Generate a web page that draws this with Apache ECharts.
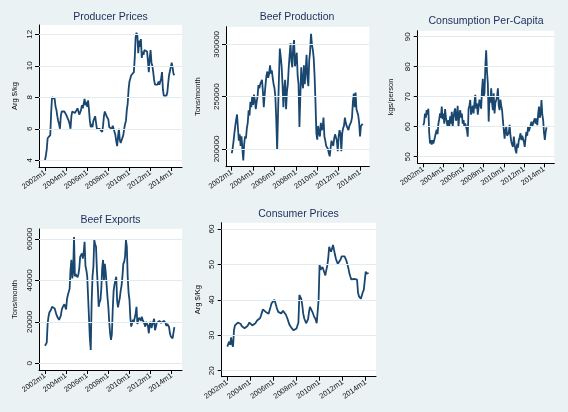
<!DOCTYPE html>
<html><head><meta charset="utf-8">
<script src="https://cdn.jsdelivr.net/npm/echarts@6/dist/echarts.min.js"></script>
<style>html,body{margin:0;padding:0;background:#EAF2F3}#c{width:568px;height:412px}</style>
</head><body><div id="c"></div>
<script>
// x axis: months since 2002m1
const xTickMonths = [0, 24, 48, 72, 96, 120, 144];
const xTickLabels = ['2002m1', '2004m1', '2006m1', '2008m1', '2010m1', '2012m1', '2014m1'];

const titles = ['Producer Prices', 'Beef Production', 'Consumption Per-Capita', 'Beef Exports', 'Consumer Prices'];
const yNames = ['Arg $/kg', 'Tons/month', 'kgs/person', 'Tons/month', 'Arg $/Kg'];

const yTicksProducer = [4, 6, 8, 10, 12];
const yTicksProduction = [200000, 250000, 300000];
const yTicksConsumption = [50, 60, 70, 80, 90];
const yTicksExports = [0, 20000, 40000, 60000];
const yTicksConsumer = [20, 30, 40, 50, 60];

const producerPrices = [4.0,4.3,4.7,5.4,5.4,5.3,5.6,7.0,8.0,8.0,
8.0,7.9,7.4,7.2,6.8,6.5,6.3,6.0,6.8,7.1,
7.1,7.0,7.1,7.0,6.9,7.0,6.8,6.5,6.3,6.0,
6.8,7.1,7.0,7.2,7.0,7.1,6.9,7.3,7.4,6.9,
7.0,7.2,7.5,7.3,7.6,7.9,7.5,7.7,7.4,7.8,
7.2,6.5,6.1,6.3,6.1,6.5,6.5,6.8,6.4,6.0,
6.1,6.0,6.0,5.9,5.9,5.8,6.2,6.8,7.1,7.0,
6.8,6.9,6.6,6.1,6.0,6.1,6.0,6.2,6.3,6.2,
5.6,5.2,4.9,5.5,6.0,5.3,5.1,5.0,5.1,5.6,
6.0,6.3,6.5,7.2,7.6,8.5,9.0,9.2,9.4,9.4,
9.5,9.6,10.5,11.8,12.1,11.9,10.8,11.6,11.2,11.7,
10.5,10.9,10.7,11.0,11.0,11.0,10.9,10.3,9.6,10.5,
11.0,10.2,10.0,9.6,9.1,8.8,8.8,8.9,8.8,9.0,
8.8,8.7,9.2,9.6,8.5,8.1,8.0,8.0,8.1,8.3,
8.9,9.4,9.3,9.5,10.2,9.9,9.5,9.4];

const beefProduction = [196000,200000,207000,215000,222000,228000,233000,220000,208000,214000,
203000,212000,200000,189000,205000,212000,210000,220000,225000,237000,
232000,245000,240000,250000,242000,252000,247000,238000,245000,250000,
261000,258000,262000,262000,266000,255000,240000,252000,262000,270000,
274000,268000,272000,280000,272000,275000,268000,262000,258000,250000,
228000,199000,235000,268000,296000,288000,279000,262000,240000,258000,
266000,238000,255000,262000,278000,290000,301000,284000,278000,298000,
304000,279000,285000,292000,270000,262000,221000,250000,278000,265000,
258000,280000,262000,275000,290000,268000,260000,285000,293000,310000,
300000,295000,287000,270000,245000,215000,209000,222000,215000,212000,
225000,218000,220000,230000,212000,208000,203000,204000,200000,196000,
193000,201000,208000,205000,203000,210000,214000,215000,208000,198000,
212000,218000,215000,198000,215000,220000,222000,230000,225000,222000,
220000,218000,222000,224000,226000,230000,245000,253000,240000,254000,
238000,235000,232000,225000,212000,222000,222000,224000];

const consumption = [60.5,61.5,64.4,63,65.5,64,66,58,54.4,55.5,
54,55.5,54.4,55.5,56.7,58,59,57.5,61,62.5,
64.4,63,66.7,62.5,64.4,61,65.9,63,63.3,60,
62.2,60,63.5,61,65,60,62.8,65,66.1,62,
63,67,60,64,65.5,63,64.4,61,62.2,60,
61.1,60,58.9,56.7,66,67,68.9,64,65.5,67,
64.4,68,70.6,66,67.8,64,64.4,69,68.9,66,
72.2,76,70,71.1,80,85.5,78.3,74.4,61.7,70,
68,72.8,68,65.5,71.1,64.4,68,68.9,70,72.8,
67,65.5,69,67,65.5,62,58.9,56,59,60,
57,56.7,58,60.6,57,55,54,53.3,56.7,54,
52.2,51.1,54.4,53,55.5,56.5,57.8,55.5,57,57.2,
55,53.3,56,58.3,57,60,58.5,58.9,60.5,61.7,
60,61.1,62,62.8,61,62.8,60.5,64,66.7,63,
64.4,68.9,64,62.2,58,55.6,58.3,59.8];

const beefExports = [8500,9000,10000,19000,22500,24500,24000,26000,27300,28000,
27500,26500,25700,23500,22500,21700,21000,20500,23000,25700,
27000,27500,28500,29000,26000,31000,33000,32500,36000,45000,
50000,41000,44000,61000,42000,43000,42500,41500,43000,46000,
51500,52000,53000,50500,53500,58700,47000,45000,42000,32000,
22000,12000,6400,29000,42000,46500,59500,57500,56300,45000,
37000,27300,29500,30500,36000,46000,49900,40000,48000,44000,
38000,32000,27300,20000,14500,11300,14000,26000,35000,38000,
40000,41800,30000,27000,29500,31500,35000,37500,41800,48000,
49000,51500,59500,56300,41800,34000,30600,22000,17700,18500,
21000,20000,19500,24000,27300,19000,21000,22000,21700,20500,
22500,21000,20000,19000,17700,20000,20500,18000,14500,19000,
20000,17000,16500,20000,21500,16000,17500,19500,20000,19000,
20500,20000,19500,20000,19500,20500,20000,19500,18000,19000,
18500,17500,14500,13000,12800,12000,12000,17500];

const consumerPrices = [26.8,26.8,28.2,27.3,29.4,27.5,26.8,31.5,32.8,33.0,
33.1,33.6,33.5,33.4,33.2,32.6,32.3,32.1,32.0,32.1,
32.3,32.6,32.8,33.6,34.0,33.3,32.8,33.2,33.2,33.3,
33.8,34.2,34.3,34.5,34.8,35.5,36.4,37.3,37.4,37.1,
36.6,36.3,36.2,36.1,36.4,38.0,39.0,39.5,39.3,40.0,
39.2,38.2,37.3,36.6,36.1,36.1,36.2,36.4,36.9,36.8,
36.6,35.8,35.1,34.4,33.5,32.8,32.3,32.0,31.6,31.4,
31.4,31.6,31.9,32.4,33.6,41.4,41.0,40.2,38.5,36.1,
34.8,34.3,33.4,33.2,34.5,36.5,38.0,37.8,37.5,36.3,
35.5,35.0,34.4,33.4,32.9,40.0,50.0,48.5,49.0,49.3,
48.5,48.0,46.9,48.4,49.6,51.7,55.0,54.2,53.6,53.2,
55.5,54.2,52.8,51.6,50.8,50.2,49.8,50.0,51.5,52.3,
52.6,52.5,52.3,51.8,51.0,50.0,48.9,47.5,46.6,45.8,
45.5,45.6,45.9,46.0,45.9,45.7,42.0,41.0,40.9,40.3,
40.1,42.2,42.8,43.2,48.0,47.4,47.6,47.6];

const seriesValues = [producerPrices, beefProduction, consumption, beefExports, consumerPrices];
const yTickSets = [yTicksProducer, yTicksProduction, yTicksConsumption, yTicksExports, yTicksConsumer];

// panel layout (pixels) and axis extents
const layout = [
  {left: 39, top: 25, width: 143, height: 142, xMin: -6.8, xMax: 155.7, yMin: 3.575, yMax: 12.59, tx: 110.5, ty: 17, nx: 15},
  {left: 226, top: 26.7, width: 143.3, height: 140, xMin: -6.4, xMax: 154.4, yMin: 183100, yMax: 316800, tx: 297, ty: 17, nx: 198.3},
  {left: 417.7, top: 30.7, width: 136.6, height: 132.6, xMin: -6.7, xMax: 156.3, yMin: 47.8, yMax: 92, tx: 486, ty: 21.5, nx: 390.7},
  {left: 39, top: 229, width: 143, height: 141, xMin: -6.8, xMax: 155.7, yMin: -3230, yMax: 64830, tx: 110.5, ty: 220.5, nx: 15},
  {left: 221.7, top: 222.7, width: 154.3, height: 154, xMin: -5.8, xMax: 154.7, yMin: 18.3, yMax: 61.8, tx: 298.5, ty: 214, nx: 198.3}
];

const FONT = 'Liberation Sans, Arial, sans-serif';
const LINE = '#1a476f';
const GRIDC = '#E2ECEF';
const grids = [], xAxes = [], yAxes = [], series = [], graphics = [];

layout.forEach((p, i) => {
  grids.push({left: p.left, top: p.top, width: p.width, height: p.height, show: true,
    backgroundColor: '#ffffff', borderWidth: 0, containLabel: false});
  xAxes.push({type: 'value', gridIndex: i, min: p.xMin, max: p.xMax,
    axisLine: {show: true, onZero: false, lineStyle: {color: '#000', width: 1}},
    axisTick: {show: true, length: 4, customValues: xTickMonths, lineStyle: {color: '#000'}},
    axisLabel: {show: true, customValues: xTickMonths, rotate: 35, margin: 5, fontSize: 7.5,
      fontFamily: FONT, color: '#111',
      formatter: v => xTickLabels[xTickMonths.indexOf(Math.round(v))] || ''},
    splitLine: {show: false}});
  const yt = yTickSets[i];
  yAxes.push({type: 'value', gridIndex: i, min: p.yMin, max: p.yMax,
    axisLine: {show: true, onZero: false, lineStyle: {color: '#000', width: 1}},
    axisTick: {show: true, length: 4, customValues: yt, lineStyle: {color: '#000'}},
    axisLabel: {show: true, customValues: yt, rotate: 90, margin: 5.5, fontSize: 8,
      fontFamily: FONT, color: '#111', formatter: v => String(Math.round(v))},
    splitLine: {show: false}});
  // gridlines at the y tick values
  series.push({type: 'line', xAxisIndex: i, yAxisIndex: i, data: [], z: 1, silent: true,
    markLine: {silent: true, symbol: ['none', 'none'], label: {show: false}, animation: false,
      lineStyle: {color: GRIDC, width: 1, type: 'solid'},
      data: yt.map(v => ({yAxis: v}))}});
  series.push({type: 'line', xAxisIndex: i, yAxisIndex: i, symbol: 'none', showSymbol: false, z: 3,
    lineStyle: {color: LINE, width: 1.8}, data: seriesValues[i].map((v, k) => [k, v]),
    animation: false});
  graphics.push({type: 'text', x: p.tx, y: p.ty,
    style: {text: titles[i], fontSize: 10.5, fontFamily: FONT, fill: '#1c2d5a', align: 'center', verticalAlign: 'middle'}});
  graphics.push({type: 'text', x: p.nx, y: p.top + p.height / 2, rotation: Math.PI / 2,
    style: {text: yNames[i], fontSize: 7.5, fontFamily: FONT, fill: '#111', align: 'center', verticalAlign: 'middle'}});
});

const chart = echarts.init(document.getElementById('c'), null, {renderer: 'canvas'});
chart.setOption({
  backgroundColor: '#EAF2F3',
  animation: false,
  grid: grids, xAxis: xAxes, yAxis: yAxes, series: series,
  graphic: graphics
});
</script>
</body></html>
